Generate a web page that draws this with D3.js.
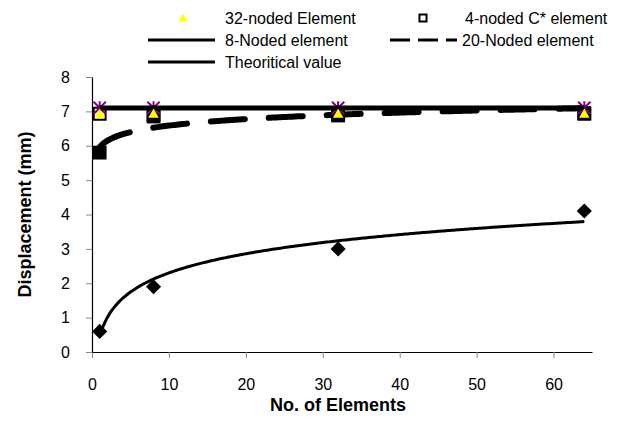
<!DOCTYPE html>
<html>
<head>
<meta charset="utf-8">
<title>Displacement vs elements</title>
<script src="https://d3js.org/d3.v7.min.js"></script>
<style>
  body { margin: 0; background: #fff; }
  text { font-family: Arial, "Liberation Sans", sans-serif; fill: #000; }
</style>
</head>
<body>
<div id="chart"></div>
<script>
// data
var elements = [1, 8, 32, 64];
var n32 = [6.97, 6.97, 6.97, 6.97];     // 32-noded Element (yellow triangles)
var c4 = [6.93, 6.9, 6.9, 6.93];        // 4-noded C* element (squares)
var n20 = [5.8, 6.85, 6.88, 6.95];      // 20-Noded element (black squares + dashed trend)
var n8 = [0.6, 1.9, 3.0, 4.1];          // 8-Noded element (diamonds + log trend)
var theory = [7.1, 7.1, 7.1, 7.1];      // Theoritical value
var xTicks = [0, 10, 20, 30, 40, 50, 60];
var yTicks = [0, 1, 2, 3, 4, 5, 6, 7, 8];

var w = 624, h = 428;
var plotL = 92, plotR = 592, plotT = 77, plotB = 352;

var svg = d3.select('#chart').append('svg')
  .attr('width', w).attr('height', h);

var x = d3.scaleLinear().domain([0, 65]).range([plotL, plotR]);
var y = d3.scaleLinear().domain([0, 8]).range([plotB, plotT]);

// axes
var xAxis = svg.append('g')
  .attr('transform', 'translate(0,' + plotB + ')')
  .call(d3.axisBottom(x).tickValues(xTicks).tickSize(6).tickSizeOuter(0));
var yAxis = svg.append('g')
  .attr('transform', 'translate(' + plotL + ',0)')
  .call(d3.axisLeft(y).tickValues(yTicks).tickSize(6).tickSizeOuter(0));
[xAxis, yAxis].forEach(function(g) {
  g.select('.domain').attr('stroke', '#000').attr('stroke-width', 1.2);
  g.selectAll('.tick line').attr('stroke', '#888');
  g.selectAll('.tick text').attr('font-size', '16px')
    .attr('font-family', 'Arial, "Liberation Sans", sans-serif').attr('fill', '#000');
});
xAxis.selectAll('.tick text').attr('y', 27);
yAxis.selectAll('.tick text').attr('x', -22);

// axis titles
svg.append('text')
  .attr('x', 338).attr('y', 411)
  .attr('text-anchor', 'middle')
  .attr('font-size', '18px').attr('font-weight', 'bold')
  .text('No. of Elements');
svg.append('text')
  .attr('transform', 'translate(31,' + ((plotT + plotB) / 2) + ') rotate(-90)')
  .attr('text-anchor', 'middle')
  .attr('font-size', '18px').attr('font-weight', 'bold')
  .text('Displacement (mm)');

// logarithmic trend (least squares on ln x, like the spreadsheet trendline)
function logFit(xs, ys) {
  var lx = xs.map(Math.log);
  var mx = d3.mean(lx), my = d3.mean(ys);
  var sxy = d3.sum(lx, function(v, i) { return (v - mx) * (ys[i] - my); });
  var sxx = d3.sum(lx, function(v) { return (v - mx) * (v - mx); });
  var b = sxy / sxx;
  var a = my - b * mx;
  return d3.range(1, 64.01, 0.25).map(function(v) { return [v, a + b * Math.log(v)]; });
}
var line = d3.line().x(function(d) { return x(d[0]); }).y(function(d) { return y(d[1]); });

// custom markers
var diamond = { draw: function(ctx, size) {
  var r = Math.sqrt(size) / 2 * 1.41;
  ctx.moveTo(0, -r); ctx.lineTo(r, 0); ctx.lineTo(0, r); ctx.lineTo(-r, 0); ctx.closePath();
} };
var star = { draw: function(ctx, size) {
  var r = Math.sqrt(size) / 2;
  ctx.moveTo(-r, -r); ctx.lineTo(r, r);
  ctx.moveTo(-r, r); ctx.lineTo(r, -r);
  ctx.moveTo(0, -r * 1.1); ctx.lineTo(0, r * 1.1);
} };
var tri = { draw: function(ctx, size) {
  var r = Math.sqrt(size) / 2;
  ctx.moveTo(0, -r); ctx.lineTo(r * 1.05, r * 0.85); ctx.lineTo(-r * 1.05, r * 0.85); ctx.closePath();
} };

function pts(vals) { return vals.map(function(v, i) { return [elements[i], v]; }); }
function place(d) { return 'translate(' + x(d[0]) + ',' + y(d[1]) + ')'; }

// 4-noded C* squares (hollow)
svg.append('g').selectAll('path').data(pts(c4)).enter().append('path')
  .attr('transform', place)
  .attr('d', d3.symbol().type(d3.symbolSquare).size(140))
  .attr('fill', '#fff').attr('stroke', '#000').attr('stroke-width', 2);

// 20-noded squares
svg.append('g').selectAll('path').data(pts(n20)).enter().append('path')
  .attr('transform', place)
  .attr('d', d3.symbol().type(d3.symbolSquare).size(190))
  .attr('fill', '#000');

// 8-noded diamonds
svg.append('g').selectAll('path').data(pts(n8)).enter().append('path')
  .attr('transform', place)
  .attr('d', d3.symbol().type(diamond).size(115))
  .attr('fill', '#000');

// trend lines
svg.append('path').datum(logFit(elements, n8))
  .attr('d', line).attr('fill', 'none').attr('stroke', '#000').attr('stroke-width', 3);
svg.append('path').datum(logFit(elements, n20))
  .attr('d', line).attr('fill', 'none').attr('stroke', '#000').attr('stroke-width', 6)
  .attr('stroke-linecap', 'round').attr('stroke-dasharray', '34,24');

// theoretical value
svg.append('g').selectAll('path').data(pts(theory)).enter().append('path')
  .attr('transform', place)
  .attr('d', d3.symbol().type(star).size(150))
  .attr('fill', 'none').attr('stroke', '#800080').attr('stroke-width', 2);
svg.append('path').datum(pts(theory))
  .attr('d', line).attr('fill', 'none').attr('stroke', '#000').attr('stroke-width', 5);

// 32-noded triangles
svg.append('g').selectAll('path').data(pts(n32)).enter().append('path')
  .attr('transform', function(d) { return 'translate(' + x(d[0]) + ',' + (y(d[1]) + 1) + ')'; })
  .attr('d', d3.symbol().type(tri).size(100))
  .attr('fill', '#ffff00');

// legend
var legend = svg.append('g');
var lg = [
  { label: '32-noded Element', lx: 148, tx: 225, ty: 18, kind: 'tri' },
  { label: '4-noded C* element', lx: 390, tx: 465, ty: 18, kind: 'sq' },
  { label: '8-Noded element', lx: 148, tx: 225, ty: 40, kind: 'line' },
  { label: '20-Noded element', lx: 390, tx: 462, ty: 40, kind: 'dash' },
  { label: 'Theoritical value', lx: 148, tx: 225, ty: 62, kind: 'line' }
];
lg.forEach(function(d) {
  if (d.kind === 'tri') {
    legend.append('path').attr('transform', 'translate(183,' + d.ty + ')')
      .attr('d', d3.symbol().type(tri).size(70)).attr('fill', '#ffff00');
  } else if (d.kind === 'sq') {
    legend.append('path').attr('transform', 'translate(423,' + d.ty + ')')
      .attr('d', d3.symbol().type(d3.symbolSquare).size(50))
      .attr('fill', '#fff').attr('stroke', '#000').attr('stroke-width', 2);
  } else {
    legend.append('line').attr('x1', d.lx).attr('x2', d.lx + 67)
      .attr('y1', d.ty).attr('y2', d.ty)
      .attr('stroke', '#000').attr('stroke-width', 3)
      .attr('stroke-dasharray', d.kind === 'dash' ? '20,8' : null);
  }
  legend.append('text').attr('x', d.tx).attr('y', d.ty + 6)
    .attr('font-size', '16px').text(d.label);
});
</script>
</body>
</html>
